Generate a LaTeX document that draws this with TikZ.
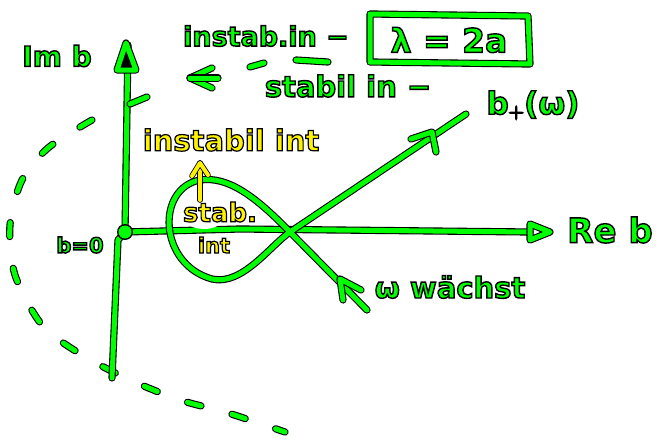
\documentclass[tikz,border=0pt]{standalone}
\usepackage{fontspec}
\setmainfont{DejaVu Sans}

\tikzset{
  pen/.style={draw=black, double=green, double distance=5pt, line width=1.1pt, line cap=round, line join=round},
  ypen/.style={draw=black, double=yellow, double distance=4pt, line width=0.8pt, line cap=round, line join=round},
  glabel/.style={font=\fontsize{28}{28}\selectfont\bfseries, inner sep=0pt},
  ylabel/.style={font=\fontsize{26}{26}\selectfont\bfseries, inner sep=0pt}
}
% green or yellow letters with a black rim
\newcommand{\gtext}[1]{\textcolor{green}{\special{pdf:literal direct 2 Tr 1.4 w 0 0 0 RG}#1\special{pdf:literal direct 0 Tr}}}
\newcommand{\ytext}[1]{\textcolor{yellow}{\special{pdf:literal direct 2 Tr 1.2 w 0 0 0 RG}#1\special{pdf:literal direct 0 Tr}}}

\begin{document}
\begin{tikzpicture}[x=1pt,y=-1pt]
    \useasboundingbox[fill=white] (0,0) rectangle (661,439);

    % dashed arc
    \draw[pen, dash pattern=on 14pt off 32pt] plot[smooth] coordinates {(92,120) (48,148) (22,180) (10,225) (15,275) (42,325) (82,355) (130,380) (180,400) (228,413) (285,432)};

    % axes
    \draw[pen] (112,378) -- (118,240) -- (125,232) -- (128,45);
    \filldraw[pen] (117,70) -- (126,43) -- (136,70) -- cycle;
    \draw[pen] (130,104) -- (147,97);
    \draw[pen] (125,232) -- (240,229) -- (530,232);
    \draw[pen] (530,224) -- (550,232) -- (530,240) -- cycle;
    \fill[black] (125,232) circle (8);
    \fill[green] (125,232) circle (6.5);

    % the curve b(omega)
    \draw[pen] (367,310) -- (290,232) .. controls (255,196) and (228,176) .. (200,180)
        .. controls (156,188) and (158,264) .. (212,279)
        .. controls (242,286) and (270,246) .. (290,232) -- (466,114);
    % arrow on upper branch
    \draw[pen] (411,139) -- (432,132) -- (436,152);
    % arrow on lower branch
    \draw[pen] (343,300) -- (340,279) -- (361,290);

    % yellow marks
    \fill[white] (204,210) ellipse (25 and 19);
    \draw[ypen] (200,200) -- (200,163);
    \draw[ypen] (192,176) -- (200,163) -- (208,175);
    \node[ylabel] (stab) at (220,212) {\ytext{stab.}};
    \node[ylabel, font=\fontsize{21}{21}\selectfont\bfseries] (int) at (214,245) {\ytext{int}};
    \node[ylabel, font=\fontsize{29}{29}\selectfont\bfseries] (instabil) at (231,140) {\ytext{instabil int}};

    % labels
    \node[glabel] (imb) at (57,56) {\gtext{Im b}};
    \node[glabel, font=\fontsize{34}{34}\selectfont\bfseries] (reb) at (610,230) {\gtext{Re b}};
    \node[glabel, font=\fontsize{21}{21}\selectfont\bfseries] (bnull) at (80,245) {\gtext{b=0}};
    \node[glabel, font=\fontsize{31}{31}\selectfont\bfseries] (bplus) at (533,105) {\gtext{b$_+$(ω)}};
    \node[glabel, font=\fontsize{29}{29}\selectfont\bfseries] (wachst) at (450,287) {\gtext{ω wächst}};

    % top remarks
    \node[glabel, font=\fontsize{27}{27}\selectfont\bfseries] (instab) at (266,36) {\gtext{instab.in −}};
    \node[glabel, font=\fontsize{33}{33}\selectfont\bfseries] (formel) at (449,40) {\gtext{λ = 2a}};
    \draw[pen] (370,14) -- (528,16) -- (530,64) -- (370,62) -- cycle;
    \node[glabel, font=\fontsize{29}{29}\selectfont\bfseries] (stabil) at (348,86) {\gtext{stabil in −}};
    \draw[pen] (296,60) -- (328,62);
    \draw[pen] (250,67) -- (264,63);
    \draw[pen] (212,68) -- (190,78) -- (212,88);
    \draw[pen] (190,78) -- (218,78);
\end{tikzpicture}
\end{document}
